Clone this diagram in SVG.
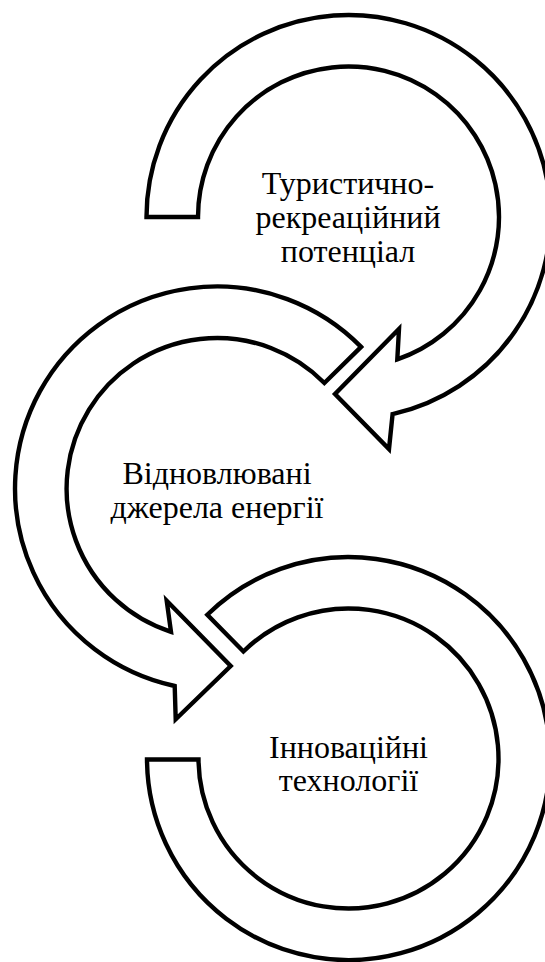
<svg xmlns="http://www.w3.org/2000/svg" width="545" height="962" viewBox="0 0 545 962">
<style>
.arc{fill:#fff;stroke:#000;stroke-width:4.4;stroke-linejoin:miter;stroke-miterlimit:10}
.lbl{font-family:"Liberation Serif","DejaVu Serif",serif;font-size:32px;fill:#000;text-anchor:middle}
</style>
<rect width="545" height="962" fill="#fff"/>
<g id="node1">
<path class="arc" d="M 146.5 217 A 202 202 0 1 1 392.6 414.1 L 389 449 L 335 394 L 399 329 L 397.3 359.4 A 150.5 150.5 0 1 0 198 217 Z"/>
<text class="lbl" x="348" y="194">Туристично-</text>
<text class="lbl" x="348" y="228">рекреаційний</text>
<text class="lbl" x="348" y="262">потенціал</text>
</g>
<g id="node2">
<path class="arc" d="M 361.1 346.9 A 202 202 0 1 0 174.7 686 L 175.7 719.3 L 230.7 666 L 166.7 600.7 L 171 631.8 A 150.5 150.5 0 1 1 324.4 383 Z"/>
<text class="lbl" x="217" y="484">Відновлювані</text>
<text class="lbl" x="217" y="518">джерела енергії</text>
</g>
<g id="node3">
<path class="arc" d="M 207.3 614.8 A 201.5 201.5 0 1 1 147 759.5 L 198.5 759.5 A 150 150 0 1 0 243.4 651.5 Z"/>
<text class="lbl" x="348.5" y="758">Інноваційні</text>
<text class="lbl" x="348.5" y="791">технології</text>
</g>
<g id="connectors"></g>
</svg>
